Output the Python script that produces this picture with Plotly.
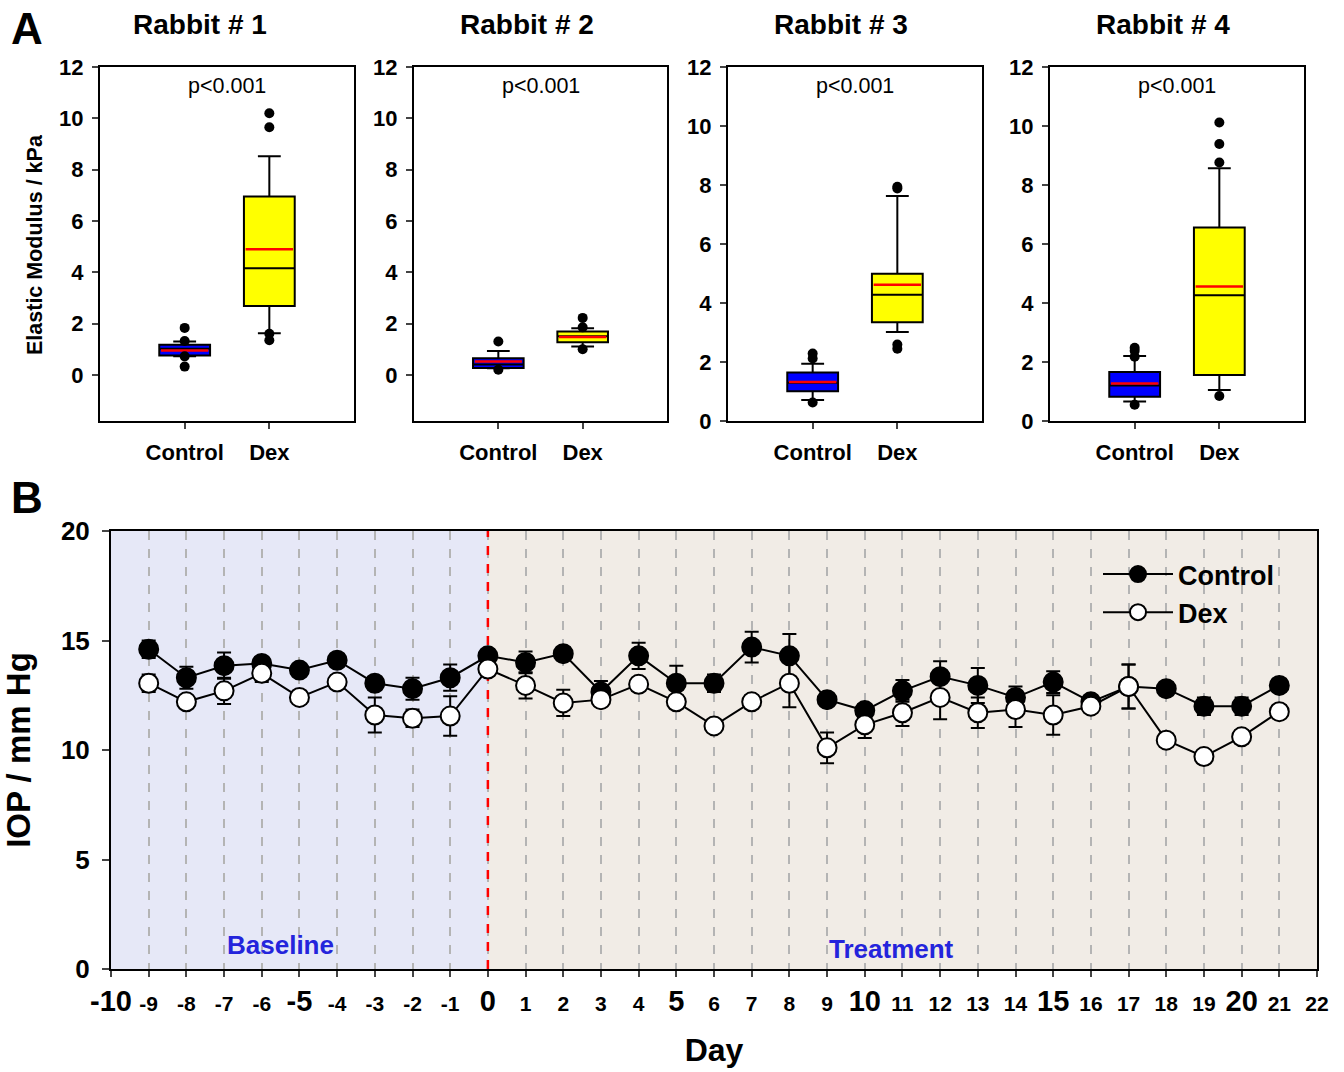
import plotly.graph_objects as go

# ---------------- Panel A data (box statistics, kPa) ----------------
rabbits = ["Rabbit # 1", "Rabbit # 2", "Rabbit # 3", "Rabbit # 4"]
groups = ["Control", "Dex"]
q1 = [[0.75, 2.68], [0.27, 1.27], [1.01, 3.35], [0.82, 1.56]]
median = [[1.02, 4.15], [0.40, 1.50], [1.30, 4.28], [1.20, 4.26]]
q3 = [[1.17, 6.95], [0.65, 1.69], [1.64, 4.99], [1.66, 6.56]]
mean = [[0.95, 4.90], [0.52, 1.47], [1.32, 4.62], [1.27, 4.56]]
lowfence = [[0.72, 1.62], [0.26, 1.10], [0.71, 3.02], [0.66, 1.05]]
upfence = [[1.30, 8.52], [0.93, 1.82], [1.94, 7.63], [2.20, 8.57]]
outliers = [
    [[1.83, 1.32, 0.72, 0.32], [10.2, 9.65, 1.60, 1.35]],
    [[1.30, 0.20], [2.22, 1.85, 1.00]],
    [[2.29, 2.12, 0.63], [7.94, 7.88, 2.59, 2.45]],
    [[2.48, 2.38, 2.18, 0.55], [10.12, 9.39, 8.76, 0.85]],
]
pvals = ["p&lt;0.001"] * 4
yranges = [[-1.8, 12], [-1.8, 12], [0, 12], [0, 12]]

# ---------------- Panel B data (IOP, mm Hg) ----------------
days = list(range(-9, 22))
control = [14.6, 13.3, 13.85, 13.95, 13.65, 14.1, 13.05, 12.8, 13.3, 14.3,
           14.0, 14.4, 12.65, 14.3, 13.05, 13.05, 14.7, 14.3, 12.3, 11.8,
           12.7, 13.35, 12.95, 12.4, 13.1, 12.2, 12.9, 12.8, 12.0, 12.0, 12.95]
control_se = [0.4, 0.5, 0.6, 0.3, 0.2, 0.3, 0.3, 0.5, 0.6, 0.3,
              0.5, 0.3, 0.5, 0.6, 0.8, 0.4, 0.7, 1.0, 0.2, 0.3,
              0.5, 0.7, 0.8, 0.5, 0.5, 0.3, 1.0, 0.3, 0.4, 0.4, 0.3]
dex = [13.05, 12.2, 12.7, 13.5, 12.4, 13.1, 11.6, 11.45, 11.55, 13.7,
       12.95, 12.15, 12.3, 13.0, 12.2, 11.1, 12.2, 13.05, 10.1, 11.15,
       11.7, 12.4, 11.7, 11.85, 11.6, 12.0, 12.9, 10.45, 9.7, 10.6, 11.75]
dex_se = [0.4, 0.2, 0.6, 0.4, 0.3, 0.3, 0.8, 0.4, 0.9, 0.3,
          0.6, 0.6, 0.3, 0.3, 0.3, 0.2, 0.3, 1.1, 0.7, 0.6,
          0.6, 1.0, 0.7, 0.8, 0.9, 0.3, 1.0, 0.3, 0.3, 0.3, 0.3]
xticks = list(range(-10, 23))
big_ticks = [-10, -5, 0, 5, 10, 15, 20]

FONT = "Liberation Sans"
box_colors = ["#0000ff", "#ffff00"]
BOXW = 0.6

fig = go.Figure()

W, H = 1344, 1072
xdoms = [(100, 354), (414, 667), (728, 982), (1050, 1304)]
title_x = [200, 527, 841, 1163]
annotations = []
shapes = []
layout_axes = {}

for r in range(4):
    n = r + 1
    xa = "x" if n == 1 else f"x{n}"
    ya = "y" if n == 1 else f"y{n}"
    for g in range(2):
        fig.add_trace(go.Box(
            x=[g], q1=[q1[r][g]], median=[median[r][g]], q3=[q3[r][g]],
            lowerfence=[lowfence[r][g]], upperfence=[upfence[r][g]],
            fillcolor=box_colors[g], line=dict(color="black", width=2),
            width=BOXW, whiskerwidth=0.45, boxpoints=False, showlegend=False,
            xaxis=xa, yaxis=ya, hoverinfo="skip"))
        fig.add_trace(go.Scatter(
            x=[g - BOXW / 2 + 0.02, g + BOXW / 2 - 0.02], y=[mean[r][g]] * 2,
            mode="lines", line=dict(color="#ff0000", width=2.5),
            showlegend=False, xaxis=xa, yaxis=ya, hoverinfo="skip"))
        fig.add_trace(go.Scatter(
            x=[g] * len(outliers[r][g]), y=outliers[r][g], mode="markers",
            marker=dict(color="black", size=10), showlegend=False,
            xaxis=xa, yaxis=ya, hoverinfo="skip"))
    x0, x1 = xdoms[r]
    key_x = "xaxis" if n == 1 else f"xaxis{n}"
    key_y = "yaxis" if n == 1 else f"yaxis{n}"
    layout_axes[key_x] = dict(
        domain=[x0 / W, x1 / W], anchor=ya, range=[-1, 2], type="linear",
        tickvals=[0, 1], ticktext=groups, ticks="outside", ticklen=6,
        tickwidth=1.5, showline=True, linecolor="black", linewidth=2,
        mirror=True, showgrid=False, zeroline=False, automargin=False,
        ticklabelstandoff=5,
        tickfont=dict(family=FONT, size=22, color="black", weight="bold"))
    layout_axes[key_y] = dict(
        domain=[1 - 421 / H, 1 - 67 / H], anchor=xa, range=yranges[r],
        tickvals=[0, 2, 4, 6, 8, 10, 12], ticks="outside", ticklen=6,
        tickwidth=1.5, showline=True, linecolor="black", linewidth=2,
        mirror=True, showgrid=False, zeroline=False, automargin=False,
        ticklabelstandoff=4,
        tickfont=dict(family=FONT, size=22, color="black", weight="bold"))
    annotations.append(dict(
        text=rabbits[r], x=title_x[r] / W, y=1 - 25 / H, xref="paper",
        yref="paper", showarrow=False, xanchor="center", yanchor="middle",
        font=dict(family=FONT, size=28, color="black", weight="bold")))
    annotations.append(dict(
        text=pvals[r], x=0.5, y=1 - 86 / H, xref=f"{xa} domain",
        yref="paper", showarrow=False, xanchor="center", yanchor="middle",
        font=dict(family=FONT, size=21.5, color="black")))

# ---------------- Panel B traces ----------------
fig.add_trace(go.Scatter(
    x=days, y=control, name="Control", mode="lines+markers",
    line=dict(color="black", width=2),
    marker=dict(color="black", size=19, line=dict(color="black", width=2)),
    error_y=dict(type="data", array=control_se, color="black", thickness=2,
                 width=7),
    xaxis="x5", yaxis="y5"))
fig.add_trace(go.Scatter(
    x=days, y=dex, name="Dex", mode="lines+markers",
    line=dict(color="black", width=2),
    marker=dict(color="white", size=19, line=dict(color="black", width=2)),
    error_y=dict(type="data", array=dex_se, color="black", thickness=2,
                 width=7),
    xaxis="x5", yaxis="y5"))

ticktext = [f'<span style="font-size:29px">{t}</span>' if t in big_ticks else str(t)
            for t in xticks]

layout_axes["xaxis5"] = dict(
    domain=[111 / W, 1317 / W], anchor="y5", range=[-10, 22],
    tickvals=xticks, ticktext=ticktext, ticks="outside", ticklen=6,
    tickwidth=1.5, showline=True, linecolor="black", linewidth=2,
    mirror=True,
    showgrid=True, gridcolor="#b4b4b4", griddash="dash", gridwidth=2,
    zeroline=False, automargin=False, ticklabelstandoff=9,
    tickfont=dict(family=FONT, size=21, color="black", weight="bold"),
    title=dict(text="Day", standoff=22,
               font=dict(family=FONT, size=32, color="black", weight="bold")))
layout_axes["yaxis5"] = dict(
    domain=[1 - 969 / H, 1 - 531 / H], anchor="x5", range=[0, 20],
    tickvals=[0, 5, 10, 15, 20], ticks="outside", ticklen=7, tickwidth=1.5,
    showline=True, linecolor="black", linewidth=2, showgrid=False,
    mirror=True,
    zeroline=False, automargin=False, ticklabelstandoff=7,
    tickfont=dict(family=FONT, size=26, color="black", weight="bold"),
    title=dict(text="IOP / mm Hg", standoff=20,
               font=dict(family=FONT, size=33, color="black", weight="bold")))

shapes.append(dict(type="rect", xref="x5", yref="y5", x0=-10, x1=0, y0=0,
                   y1=20, fillcolor="#e6e8f7", line=dict(width=0),
                   layer="below"))
shapes.append(dict(type="rect", xref="x5", yref="y5", x0=0, x1=22, y0=0,
                   y1=20, fillcolor="#f1ece6", line=dict(width=0),
                   layer="below"))
shapes.append(dict(type="line", xref="x5", yref="y5", x0=0, x1=0, y0=0,
                   y1=20, line=dict(color="#ff0000", width=2.5, dash="dash"),
                   layer="between"))

annotations += [
    dict(text="Baseline", x=-5.5, y=1.1, xref="x5", yref="y5",
         showarrow=False, font=dict(family=FONT, size=26, color="#2424dc",
                                    weight="bold")),
    dict(text="Treatment", x=10.7, y=0.9, xref="x5", yref="y5",
         showarrow=False, font=dict(family=FONT, size=26, color="#2424dc",
                                    weight="bold")),
    dict(text="A", x=27 / W, y=1 - 28 / H, xref="paper", yref="paper",
         showarrow=False, xanchor="center", yanchor="middle",
         font=dict(family=FONT, size=44, color="black", weight="bold")),
    dict(text="B", x=27 / W, y=1 - 497 / H, xref="paper", yref="paper",
         showarrow=False, xanchor="center", yanchor="middle",
         font=dict(family=FONT, size=44, color="black", weight="bold")),
    dict(text="Elastic Modulus / kPa", x=35 / W, y=1 - 245 / H,
         xref="paper", yref="paper", showarrow=False, textangle=-90,
         xanchor="center", yanchor="middle",
         font=dict(family=FONT, size=21.5, color="black", weight="bold")),
]

fig.update_layout(
    width=W, height=H, margin=dict(l=0, r=0, t=0, b=0, autoexpand=False),
    paper_bgcolor="white", plot_bgcolor="rgba(0,0,0,0)",
    annotations=annotations, shapes=shapes,
    legend=dict(x=1098 / W, y=1 - 550 / H, xanchor="left", yanchor="top",
                bgcolor="rgba(0,0,0,0)", tracegroupgap=0,
                font=dict(family=FONT, size=27, color="black", weight="bold"),
                itemwidth=70),
    **layout_axes)

fig.write_html("out.html", config={"displayModeBar": False},
               post_script="document.body.style.margin='0px';")
